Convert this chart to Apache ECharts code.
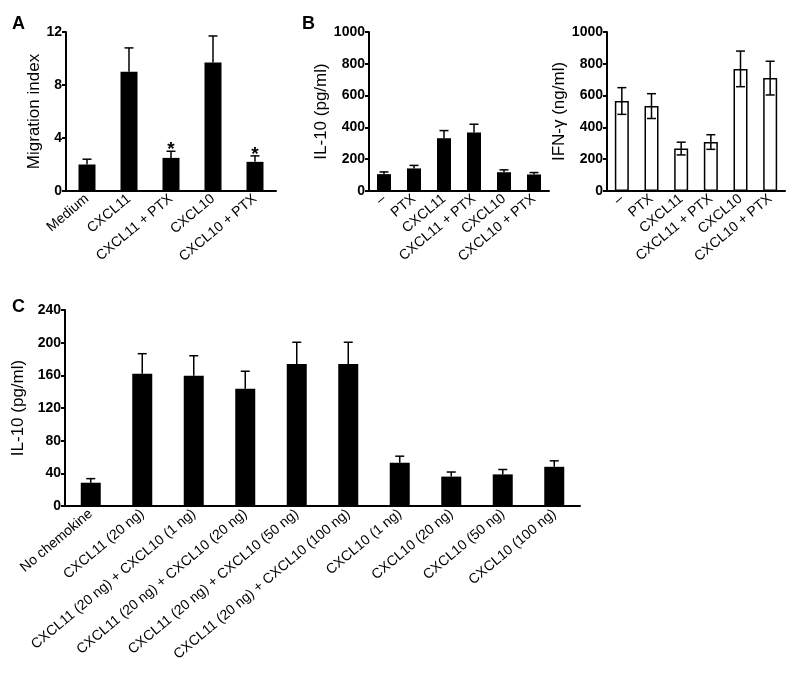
<!DOCTYPE html>
<html><head><meta charset="utf-8">
<script src="https://cdn.jsdelivr.net/npm/echarts@6/dist/echarts.min.js"></script>
<style>html,body{margin:0;padding:0;background:#fff}#c{width:797px;height:678px}</style>
</head><body><div id="c"></div>
<script>
// Panel A
const catsA = ['Medium', 'CXCL11', 'CXCL11 + PTX', 'CXCL10', 'CXCL10 + PTX'];
const migration = [2.0, 9.0, 2.5, 9.7, 2.2];
const migrationErr = [0.4, 1.8, 0.5, 2.0, 0.45];
const sigA = ['', '', '*', '', '*'];
// Panel B
const catsB = ['\u2013', 'PTX', 'CXCL11', 'CXCL11 + PTX', 'CXCL10', 'CXCL10 + PTX'];
const il10B = [106, 142, 332, 368, 118, 104];
const il10BErr = [14, 19, 48, 52, 15, 12];
const ifng = [566, 534, 267, 308, 768, 710];
const ifngErr = [84, 78, 40, 46, 112, 106];
// Panel C
const catsC = ['No chemokine', 'CXCL11 (20 ng)', 'CXCL11 (20 ng) + CXCL10 (1 ng)', 'CXCL11 (20 ng) + CXCL10 (20 ng)',
  'CXCL11 (20 ng) + CXCL10 (50 ng)', 'CXCL11 (20 ng) + CXCL10 (100 ng)', 'CXCL10 (1 ng)', 'CXCL10 (20 ng)',
  'CXCL10 (50 ng)', 'CXCL10 (100 ng)'];
const il10C = [28.5, 162, 159.5, 143.5, 174, 174, 53, 36, 38.7, 48];
const il10CErr = [5, 24.5, 24.5, 21.5, 26.5, 26.5, 8, 5.6, 6, 7.3];
// tick settings
const yMaxA = 12, yIntA = 4;
const yMaxB = 1000, yIntB = 200;
const yMaxC = 240, yIntC = 40;

const FONT = 'Liberation Sans';
const chart = echarts.init(document.getElementById('c'), null, {renderer: 'canvas'});

function xAx(g, cats) {
  return {type: 'category', gridIndex: g, data: cats,
    axisLine: {lineStyle: {color: '#000', width: 2}},
    axisTick: {length: 4, lineStyle: {color: '#000', width: 2}},
    axisLabel: {rotate: 40, interval: 0, margin: 6, fontSize: 14, color: '#000', fontFamily: FONT}};
}
function yAx(g, max, interval, name, gap) {
  return {type: 'value', gridIndex: g, min: 0, max: max, interval: interval,
    splitLine: {show: false},
    axisLine: {show: true, lineStyle: {color: '#000', width: 2}},
    axisTick: {show: true, length: 4, lineStyle: {color: '#000', width: 2}},
    axisLabel: {fontSize: 14, fontWeight: 'bold', color: '#000', fontFamily: FONT, margin: 4,
      formatter: v => String(v)},
    name: name, nameLocation: 'middle', nameGap: gap,
    nameTextStyle: {fontSize: 17, color: '#000', fontFamily: FONT}};
}
function errData(vals, errs, both) {
  return vals.map((v, i) => [i, both ? v - errs[i] : v, v + errs[i]]);
}
function errSeries(x, y, vals, errs, both, sig) {
  return {type: 'custom', xAxisIndex: x, yAxisIndex: y, z: 5,
    data: errData(vals, errs, both),
    renderItem: function (params, api) {
      const lo = api.coord([api.value(0), api.value(1)]);
      const hi = api.coord([api.value(0), api.value(2)]);
      const cw = 4.5;
      const st = {stroke: '#000', lineWidth: 1.5};
      const ch = [
        {type: 'line', shape: {x1: hi[0], y1: lo[1], x2: hi[0], y2: hi[1]}, style: st},
        {type: 'line', shape: {x1: hi[0] - cw, y1: hi[1], x2: hi[0] + cw, y2: hi[1]}, style: st}
      ];
      if (both) ch.push({type: 'line', shape: {x1: lo[0] - cw, y1: lo[1], x2: lo[0] + cw, y2: lo[1]}, style: st});
      if (sig && sig[params.dataIndex]) {
        ch.push({type: 'text', x: hi[0], y: hi[1] + 8, style: {text: sig[params.dataIndex], fill: '#000',
          font: 'bold 19px ' + FONT, align: 'center', verticalAlign: 'bottom'}});
      }
      return {type: 'group', children: ch};
    }};
}
function barSeries(x, y, vals, w, fill) {
  return {type: 'bar', xAxisIndex: x, yAxisIndex: y, data: vals, barWidth: w,
    itemStyle: fill ? {color: '#000'} : {color: '#fff', borderColor: '#000', borderWidth: 1.5}};
}
const letterStyle = {fontSize: 18, fontWeight: 'bold', color: '#000', fontFamily: FONT};

chart.setOption({
  animation: false,
  textStyle: {fontFamily: FONT},
  title: [
    {text: 'A', left: 12, top: 15, padding: 0, textStyle: letterStyle},
    {text: 'B', left: 302, top: 15, padding: 0, textStyle: letterStyle},
    {text: 'C', left: 12, top: 298, padding: 0, textStyle: letterStyle}
  ],
  grid: [
    {left: 66, top: 32, width: 210, height: 159},
    {left: 369, top: 32, width: 180, height: 159},
    {left: 607, top: 32, width: 178, height: 159},
    {left: 65, top: 310, width: 515, height: 196}
  ],
  xAxis: [xAx(0, catsA), xAx(1, catsB), xAx(2, catsB), xAx(3, catsC)],
  yAxis: [
    yAx(0, yMaxA, yIntA, 'Migration index', 23),
    yAx(1, yMaxB, yIntB, 'IL-10 (pg/ml)', 27),
    yAx(2, yMaxB, yIntB, 'IFN-\u03b3 (ng/ml)', 30),
    yAx(3, yMaxC, yIntC, 'IL-10 (pg/ml)', 30)
  ],
  series: [
    barSeries(0, 0, migration, 17, true),
    errSeries(0, 0, migration, migrationErr, false, sigA),
    barSeries(1, 1, il10B, 14, true),
    errSeries(1, 1, il10B, il10BErr, false),
    barSeries(2, 2, ifng, 14, false),
    errSeries(2, 2, ifng, ifngErr, true),
    barSeries(3, 3, il10C, 20, true),
    errSeries(3, 3, il10C, il10CErr, false)
  ]
});
</script></body></html>
